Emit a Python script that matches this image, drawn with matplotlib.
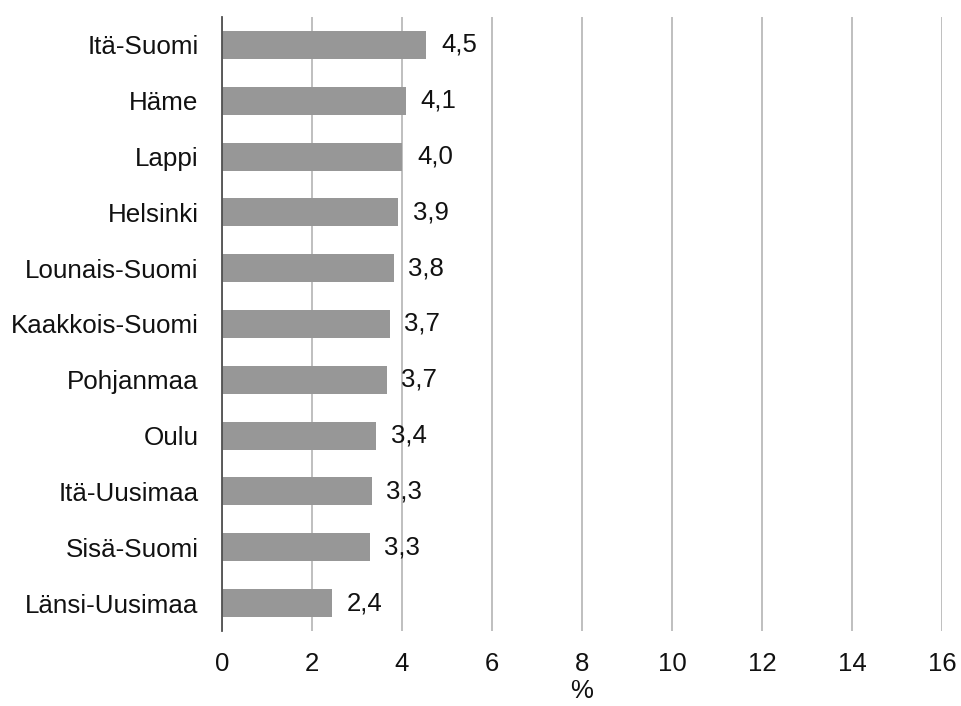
import matplotlib
matplotlib.use("Agg")
import matplotlib.pyplot as plt

regions = ["Itä-Suomi", "Häme", "Lappi", "Helsinki", "Lounais-Suomi",
           "Kaakkois-Suomi", "Pohjanmaa", "Oulu", "Itä-Uusimaa",
           "Sisä-Suomi", "Länsi-Uusimaa"]
values = [4.54, 4.09, 4.01, 3.92, 3.82, 3.73, 3.66, 3.43, 3.33, 3.28, 2.44]
xticks = [0, 2, 4, 6, 8, 10, 12, 14, 16]
xlabel = "%"

plt.rcParams['font.family'] = ['Liberation Sans', 'DejaVu Sans']

fig = plt.figure(figsize=(9.62, 7.06), dpi=100)
ax = fig.add_axes([222/962, 1-631/706, 720/962, 614/706])

ypos = list(range(len(regions)))[::-1]
ax.barh(ypos, values, height=0.5, color='#979797', zorder=3)

for y, v in zip(ypos, values):
    ax.annotate(f"{v:.1f}".replace('.', ','), xy=(v, y), xytext=(10.5, 0),
                textcoords='offset points', ha='left', va='center',
                fontsize=18.5, color='#111111', zorder=4)

ax.set_xlim(0, 16)
ax.set_ylim(-0.5, len(regions) - 0.5)
ax.set_yticks(ypos)
ax.set_yticklabels(regions, fontsize=18.7, color='#111111')
ax.set_xticks(xticks)
ax.set_xticklabels([str(t) for t in xticks], fontsize=18.5, color='#111111')
ax.tick_params(axis='y', length=0, pad=17)
ax.tick_params(axis='x', length=0, pad=15)
ax.set_xlabel(xlabel, fontsize=18.5, color='#111111', labelpad=2)

ax.grid(axis='x', color='#b4b4b4', linewidth=1.2, zorder=0)
ax.grid(axis='y', visible=False)
for s in ['top', 'right', 'bottom']:
    ax.spines[s].set_visible(False)
ax.spines['left'].set_color('#505050')
ax.spines['left'].set_linewidth(1.3)
ax.spines['left'].set_zorder(5)

fig.savefig("out.png", dpi=100)
